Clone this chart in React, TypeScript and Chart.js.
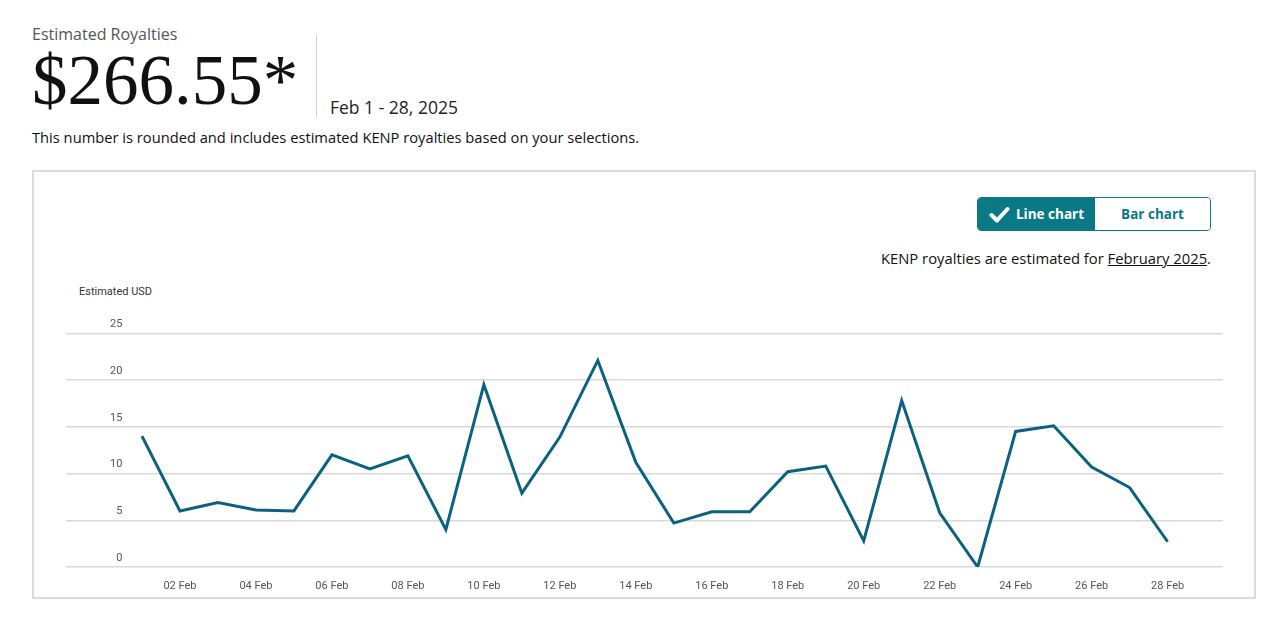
import React, { useEffect, useRef } from "react";
import { Chart, registerables } from "chart.js";

Chart.register(...registerables);

const days = [1, 2, 3, 4, 5, 6, 7, 8, 9, 10, 11, 12, 13, 14, 15, 16, 17, 18, 19, 20, 21, 22, 23, 24, 25, 26, 27, 28];
const royalties = [14.0, 6.0, 6.9, 6.1, 6.0, 12.0, 10.5, 11.9, 4.0, 19.5, 7.9, 13.9, 22.1, 11.2, 4.7, 5.9, 5.9, 10.2, 10.8, 2.8, 17.8, 5.8, 0.0, 14.5, 15.1, 10.7, 8.5, 2.7];
const xTickDays = [2, 4, 6, 8, 10, 12, 14, 16, 18, 20, 22, 24, 26, 28];
const xTickLabels = ["02 Feb", "04 Feb", "06 Feb", "08 Feb", "10 Feb", "12 Feb", "14 Feb", "16 Feb", "18 Feb", "20 Feb", "22 Feb", "24 Feb", "26 Feb", "28 Feb"];
const yTicks = [0, 5, 10, 15, 20, 25];

const SANS = "Roboto, 'Liberation Sans', Arial, sans-serif";
const HEAD = "'Open Sans', 'Noto Sans', Arial, sans-serif";
const TEAL = "#0b7885";
const LINE = "#0b6280";

function LineChart() {
  const ref = useRef<HTMLCanvasElement | null>(null);
  useEffect(() => {
    if (!ref.current) return;
    const chart = new Chart(ref.current, {
      type: "line",
      data: {
        datasets: [
          {
            data: days.map((d, i) => ({ x: d, y: royalties[i] })),
            borderColor: LINE,
            borderWidth: 3,
            pointRadius: 0,
            tension: 0,
            fill: false,
          },
        ],
      },
      options: {
        animation: false,
        responsive: false,
        maintainAspectRatio: false,
        layout: { padding: { left: 26, right: 27.3, top: 28.3, bottom: 8.8 } },
        plugins: { legend: { display: false }, tooltip: { enabled: false }, title: { display: false } },
        scales: {
          x: {
            type: "linear",
            min: -1,
            max: 29.45,
            afterBuildTicks: (scale: any) => {
              scale.ticks = xTickDays.map((v) => ({ value: v }));
            },
            grid: { display: false, drawTicks: false },
            border: { display: false },
            ticks: {
              autoSkip: false,
              maxRotation: 0,
              padding: 13,
              color: "#555",
              font: { family: SANS, size: 11 },
              callback: (v: any) => {
                const idx = xTickDays.indexOf(Number(v));
                return idx >= 0 ? xTickLabels[idx] : "";
              },
            },
          },
          y: {
            min: 0,
            max: 25,
            afterBuildTicks: (scale: any) => {
              scale.ticks = yTicks.map((v) => ({ value: v }));
            },
            afterFit: (scale: any) => {
              scale.width = 0;
              scale.paddingTop = 0;
              scale.paddingBottom = 0;
            },
            grid: { color: "#d9d9d9", lineWidth: 1.5, drawTicks: false },
            border: { display: false },
            ticks: {
              mirror: true,
              crossAlign: "far",
              padding: 44,
              labelOffset: -9,
              color: "#555",
              font: { family: SANS, size: 11 },
            },
          },
        },
      },
    });
    return () => chart.destroy();
  }, []);
  return (
    <canvas
      ref={ref}
      width={1210}
      height={310}
      style={{ position: "absolute", left: 32, top: 297, width: 1210, height: 310 }}
    />
  );
}

export default function App() {
  return (
    <div style={{ position: "relative", width: 1264, height: 604, fontFamily: HEAD, color: "#111" }}>
      <div style={{ position: "absolute", left: 24, top: 16.5, fontSize: 16, lineHeight: "18px", color: "#555", whiteSpace: "nowrap" }}>
        Estimated Royalties
      </div>
      <div
        style={{
          position: "absolute",
          left: 24,
          top: 36.5,
          fontFamily: "'Liberation Serif', 'Times New Roman', serif",
          fontSize: 71,
          lineHeight: "71px",
          color: "#111",
          whiteSpace: "nowrap",
        }}
      >
        $266.55*
      </div>
      <div style={{ position: "absolute", left: 308, top: 27, width: 1, height: 82, background: "#cfcfcf" }} />
      <div style={{ position: "absolute", left: 322, top: 88.5, fontSize: 17.5, lineHeight: "20px", color: "#222", whiteSpace: "nowrap" }}>
        Feb 1 - 28, 2025
      </div>
      <div style={{ position: "absolute", left: 24, top: 120, fontSize: 14.7, lineHeight: "18px", color: "#111", whiteSpace: "nowrap" }}>
        This number is rounded and includes estimated KENP royalties based on your selections.
      </div>

      <div
        style={{
          position: "absolute",
          left: 24,
          top: 162,
          width: 1224,
          height: 429,
          boxSizing: "border-box",
          border: "2px solid #dcdcdc",
        }}
      />

      <div
        style={{
          position: "absolute",
          left: 969,
          top: 189,
          width: 234,
          height: 34,
          display: "flex",
          boxSizing: "border-box",
          border: `1px solid ${TEAL}`,
          borderRadius: 4,
          overflow: "hidden",
          fontSize: 13.5,
          fontWeight: 700,
        }}
      >
        <div
          style={{
            width: 117,
            background: TEAL,
            color: "#fff",
            display: "flex",
            alignItems: "center",
            justifyContent: "center",
            gap: 6,
          }}
        >
          <svg width="21" height="17" viewBox="0 0 21 17">
            <path d="M2.5 9 L8 14.5 L18.5 3" stroke="#fff" strokeWidth="4" fill="none" strokeLinecap="round" strokeLinejoin="round" />
          </svg>
          <span>Line chart</span>
        </div>
        <div
          style={{
            flex: 1,
            background: "#fff",
            color: TEAL,
            display: "flex",
            alignItems: "center",
            justifyContent: "center",
          }}
        >
          Bar chart
        </div>
      </div>

      <div
        style={{
          position: "absolute",
          left: 500,
          top: 241,
          width: 703,
          textAlign: "right",
          fontSize: 14.8,
          lineHeight: "18px",
          color: "#111",
          whiteSpace: "nowrap",
        }}
      >
        KENP royalties are estimated for <span style={{ textDecoration: "underline" }}>February 2025</span>.
      </div>

      <div style={{ position: "absolute", left: 71, top: 276.5, fontFamily: SANS, fontSize: 11, lineHeight: "13px", color: "#333" }}>
        Estimated USD
      </div>

      <LineChart />
    </div>
  );
}
